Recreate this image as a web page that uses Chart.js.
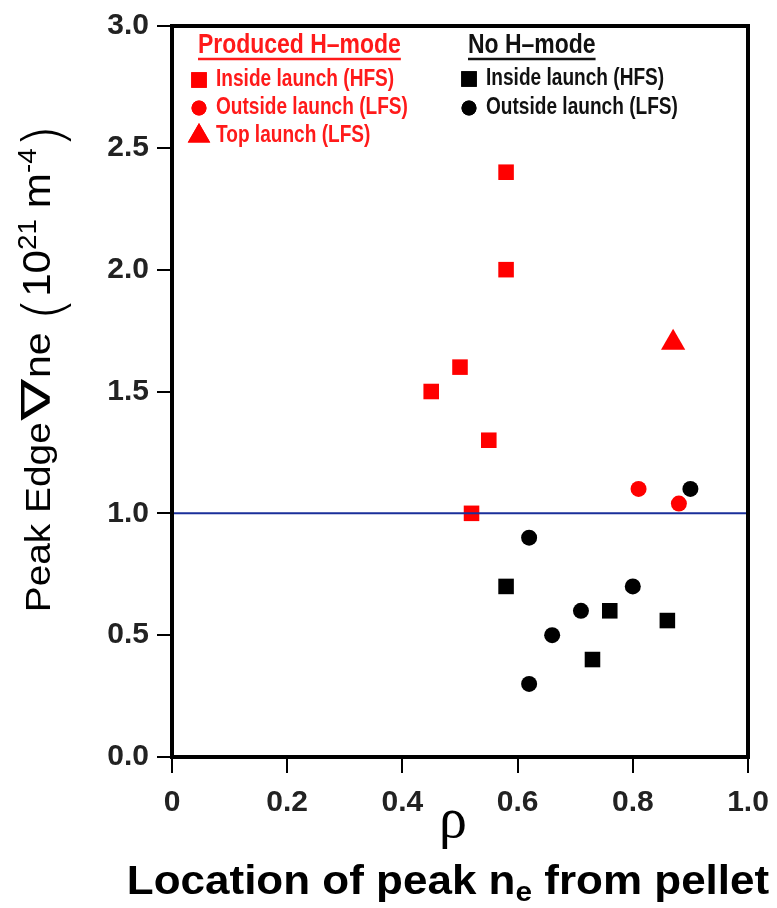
<!DOCTYPE html>
<html>
<head>
<meta charset="utf-8">
<script src="https://cdn.jsdelivr.net/npm/chart.js@4/dist/chart.umd.min.js"></script>
<style>
  body { margin: 0; background: #fff; }
  #wrap { position: relative; width: 777px; height: 908px; overflow: hidden; }
  .lbl { position: absolute; white-space: nowrap; color: #000; }
  #ylab { font: 35px "Liberation Sans", Arial, sans-serif; width: 600px; text-align: center;
          left: -273px; top: 346px; height: 44px; line-height: 44px; transform: rotate(-90deg) scaleX(1.11); }
  #ylab .nab { display: inline-block; font: 40px "DejaVu Sans", sans-serif; transform: scaleX(1.4); margin: 0 6px 0 7px; }
  #ylab .ne { font-size: 37px; }
  #ylab .par { font: 200 57px "DejaVu Sans ExtraLight", "DejaVu Sans", sans-serif; vertical-align: -13px; }
  #ylab .big { font-size: 38px; }
  #ylab sup { font-size: 25px; vertical-align: 14px; }
  #rho { font: 56px "Liberation Serif", serif; left: 439px; top: 786px; }
  #xlab { font: bold 40px "Liberation Sans", Arial, sans-serif; width: 600px; text-align: center;
          left: 148px; top: 858px; transform: scaleX(1.1); }
  #xlab sub { font-size: 27px; vertical-align: -7px; }
</style>
</head>
<body>
<div id="wrap">
  <canvas id="chartPellet" width="777" height="908"></canvas>
  <div class="lbl" id="ylab">Peak Edge<span class="nab">∇</span><span class="ne">ne</span> <span class="par">(</span><span class="big">10</span><sup>21</sup> <span class="big">m</span><sup>-4</sup><span class="par">)</span></div>
  <div class="lbl" id="rho">ρ</div>
  <div class="lbl" id="xlab">Location of peak n<sub>e</sub> from pellet</div>
</div>
<script>
// produced H-mode
const hfsH_x = [0.58, 0.58, 0.45, 0.50, 0.55, 0.52];
const hfsH_y = [2.4, 2.0, 1.5, 1.6, 1.3, 1.0];
const lfsH_x = [0.81, 0.88];
const lfsH_y = [1.1, 1.04];
const topH_x = [0.87];
const topH_y = [1.7];
// no H-mode
const hfsN_x = [0.58, 0.73, 0.76, 0.86];
const hfsN_y = [0.7, 0.4, 0.6, 0.56];
const lfsN_x = [0.62, 0.66, 0.62, 0.71, 0.80, 0.90];
const lfsN_y = [0.9, 0.5, 0.3, 0.6, 0.7, 1.1];
// threshold line
const thr_x = [0, 1];
const thr_y = [1.0, 1.0];

const xTicks = [0, 0.2, 0.4, 0.6, 0.8, 1.0];
const yTicks = [0, 0.5, 1.0, 1.5, 2.0, 2.5, 3.0];

const RED = '#ff0000';
const pts = (xs, ys) => xs.map((x, i) => ({ x: x, y: ys[i] }));

const legendGroups = [
    { title: 'Produced H\u2013mode', color: '#ff1a1a', x: 198, tx: 216, items: [
        { label: 'Inside launch (HFS)', style: 'rect', r: 11, color: RED, y: 80 },
        { label: 'Outside launch (LFS)', style: 'circle', r: 7.5, color: RED, y: 108 },
        { label: 'Top launch (LFS)', style: 'triangle', r: 13, color: RED, y: 136 }
    ]},
    { title: 'No H\u2013mode', color: '#111', x: 468, tx: 486, items: [
        { label: 'Inside launch (HFS)', style: 'rect', r: 11, color: '#000', y: 79 },
        { label: 'Outside launch (LFS)', style: 'circle', r: 7.5, color: '#000', y: 108 }
    ]}
];

function condensedText(ctx, text, x, y, sx) {
    ctx.save();
    ctx.translate(x, y);
    ctx.scale(sx, 1);
    ctx.fillText(text, 0, 0);
    ctx.restore();
    return ctx.measureText(text).width * sx;
}

const framePlugin = {
    id: 'frame',
    afterDraw(chart) {
        const a = chart.chartArea;
        const ctx = chart.ctx;
        ctx.save();
        ctx.strokeStyle = '#000';
        ctx.lineWidth = 4;
        ctx.strokeRect(a.left, a.top, a.right - a.left, a.bottom - a.top);

        // legend
        const font = '"Liberation Sans", Arial, sans-serif';
        ctx.textBaseline = 'middle';
        legendGroups.forEach(g => {
            ctx.fillStyle = g.color;
            ctx.strokeStyle = g.color;
            ctx.font = 'bold 28px ' + font;
            const w = condensedText(ctx, g.title, g.x, 45, 0.82);
            ctx.lineWidth = 2.5;
            ctx.beginPath();
            ctx.moveTo(g.x, 59);
            ctx.lineTo(g.x + w, 59);
            ctx.stroke();
            ctx.font = 'bold 23px ' + font;
            g.items.forEach(it => {
                ctx.fillStyle = it.color;
                Chart.helpers.drawPoint(ctx, { pointStyle: it.style, radius: it.r, borderWidth: 0, rotation: 0 }, g.x + 1, it.y);
                ctx.fill();
                ctx.fillStyle = g.color;
                condensedText(ctx, it.label, g.tx, it.y, 0.83);
            });
        });
        ctx.restore();
    }
};

const tickFont = { family: '"Liberation Sans", Arial, sans-serif', size: 30, weight: 'bold' };
const xTickFont = { family: '"Liberation Sans", Arial, sans-serif', size: 30, weight: 'bold', lineHeight: 1.45 };

new Chart(document.getElementById('chartPellet'), {
    type: 'scatter',
    data: {
        datasets: [
            { label: 'threshold', type: 'line', data: pts(thr_x, thr_y), borderColor: '#1a2f9a', borderWidth: 2, pointRadius: 0 },
            { label: 'H HFS', data: pts(hfsH_x, hfsH_y), pointStyle: 'rect', pointRadius: 11, backgroundColor: RED, borderWidth: 0 },
            { label: 'H LFS', data: pts(lfsH_x, lfsH_y), pointStyle: 'circle', pointRadius: 8, backgroundColor: RED, borderWidth: 0 },
            { label: 'H top', data: pts(topH_x, topH_y), pointStyle: 'triangle', pointRadius: 14, backgroundColor: RED, borderWidth: 0 },
            { label: 'No HFS', data: pts(hfsN_x, hfsN_y), pointStyle: 'rect', pointRadius: 11, backgroundColor: '#000', borderWidth: 0 },
            { label: 'No LFS', data: pts(lfsN_x, lfsN_y), pointStyle: 'circle', pointRadius: 8, backgroundColor: '#000', borderWidth: 0 }
        ]
    },
    options: {
        responsive: false,
        animation: false,
        layout: { padding: { top: 20, right: 29, left: 0, bottom: 0 } },
        plugins: { legend: { display: false }, tooltip: { enabled: false } },
        scales: {
            x: {
                min: 0, max: 1,
                afterBuildTicks: s => { s.ticks = xTicks.map(v => ({ value: v })); },
                afterFit: s => { s.height = 151; },
                ticks: { font: xTickFont, color: '#222', padding: 8, maxRotation: 0,
                         callback: v => v === 0 ? '0' : v.toFixed(1) },
                grid: { drawOnChartArea: false, color: '#000', lineWidth: 2, tickLength: 16 },
                border: { color: '#000', width: 4 }
            },
            y: {
                min: 0, max: 3,
                afterBuildTicks: s => { s.ticks = yTicks.map(v => ({ value: v })); },
                afterFit: s => { s.width = 172; },
                ticks: { font: tickFont, color: '#222', padding: 8,
                         callback: v => v.toFixed(1) },
                grid: { drawOnChartArea: false, color: '#000', lineWidth: 2, tickLength: 15 },
                border: { color: '#000', width: 4 }
            }
        }
    },
    plugins: [framePlugin]
});
</script>
</body>
</html>
